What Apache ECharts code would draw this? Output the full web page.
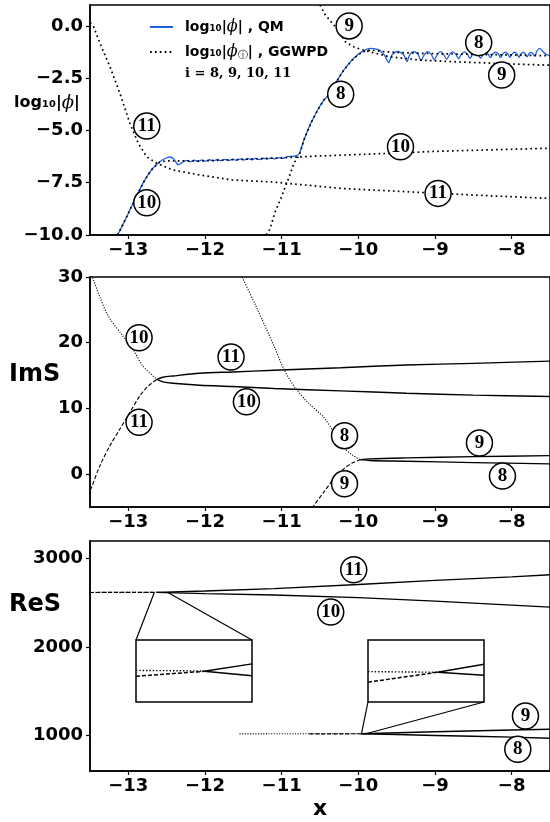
<!DOCTYPE html>
<html><head><meta charset="utf-8">
<script src="https://cdn.jsdelivr.net/npm/echarts@6/dist/echarts.min.js"></script>
<style>html,body{margin:0;padding:0;background:#fff}#c{width:550px;height:822px}</style>
</head><body><div id="c"></div><script>
// ---------- tick labels ----------
const xTicks = [-13, -12, -11, -10, -9, -8];
const phiTicks = [-10, -7.5, -5, -2.5, 0];
const imTicks = [0, 10, 20, 30];
const reTicks = [1000, 2000, 3000];

// ---------- panel 1 : log10|phi| ----------
const qm = [
  [-13.14,-10.0],[-13.05,-9.35],[-12.96,-8.65],[-12.88,-8.05],[-12.81,-7.53],[-12.74,-7.1],[-12.68,-6.81],
  [-12.59,-6.5],[-12.52,-6.34],[-12.46,-6.27],[-12.41,-6.35],[-12.35,-6.64],[-12.29,-6.52],[-12.24,-6.43],
  [-12.19,-6.5],[-12.14,-6.42],[-12.09,-6.49],[-12.04,-6.41],[-11.99,-6.47],[-11.94,-6.4],[-11.89,-6.46],
  [-11.84,-6.39],[-11.79,-6.45],[-11.74,-6.38],[-11.69,-6.44],[-11.64,-6.37],[-11.59,-6.43],[-11.54,-6.36],
  [-11.49,-6.41],[-11.44,-6.35],[-11.39,-6.4],[-11.34,-6.34],[-11.29,-6.39],[-11.24,-6.33],[-11.19,-6.37],
  [-11.14,-6.31],[-11.09,-6.36],[-11.04,-6.3],[-10.99,-6.34],[-10.94,-6.27],[-10.88,-6.24],[-10.82,-6.22],
  [-10.77,-6.1],[-10.71,-5.46],[-10.62,-4.66],[-10.53,-4.02],[-10.45,-3.55],[-10.38,-3.27],[-10.3,-2.75],
  [-10.19,-2.11],[-10.06,-1.55],[-9.95,-1.23],[-9.84,-1.07],[-9.73,-1.15],[-9.66,-1.4],[-9.604,-1.75],
  [-9.56,-1.38],[-9.485,-1.22],[-9.41,-1.38],[-9.366,-1.71],
  [-9.33,-1.38],[-9.275,-1.23],[-9.22,-1.37],[-9.184,-1.66],
  [-9.14,-1.37],[-9.097,-1.23],[-9.05,-1.36],[-9.01,-1.62],
  [-8.97,-1.36],[-8.928,-1.23],[-8.89,-1.35],[-8.847,-1.6],
  [-8.81,-1.36],[-8.769,-1.24],[-8.73,-1.35],[-8.691,-1.57],
  [-8.655,-1.35],[-8.617,-1.24],[-8.58,-1.34],[-8.543,-1.55],
  [-8.51,-1.35],[-8.474,-1.25],[-8.44,-1.34],[-8.405,-1.55],
  [-8.37,-1.35],[-8.34,-1.25],[-8.31,-1.34],[-8.275,-1.52],
  [-8.245,-1.34],[-8.21,-1.25],[-8.175,-1.33],[-8.145,-1.52],
  [-8.115,-1.34],[-8.084,-1.26],[-8.053,-1.33],[-8.023,-1.5],
  [-7.993,-1.34],[-7.963,-1.26],[-7.933,-1.33],[-7.903,-1.5],
  [-7.877,-1.33],[-7.851,-1.26],[-7.825,-1.33],[-7.799,-1.48],
  [-7.774,-1.33],[-7.749,-1.27],[-7.724,-1.32],[-7.699,-1.45],
  [-7.67,-1.2],[-7.634,-1.07],[-7.6,-1.2],[-7.55,-1.36],[-7.5,-1.42]
];
const g8 = [
  [-11.2,-10.0],[-11.15,-9.69],[-11.09,-8.94],[-11.01,-8.25],[-10.96,-7.77],[-10.9,-7.2],[-10.84,-6.57],
  [-10.77,-6.18],[-10.71,-5.46],[-10.62,-4.66],[-10.53,-4.02],[-10.45,-3.55],[-10.38,-3.27],[-10.3,-2.75],
  [-10.19,-2.11],[-10.06,-1.55],[-9.95,-1.25],[-9.84,-1.15],[-9.7,-1.22],[-9.5,-1.27],[-9.0,-1.33],
  [-8.5,-1.36],[-8.0,-1.39],[-7.5,-1.43]
];
const g9 = [
  [-10.5,1.0],[-10.43,0.52],[-10.3,-0.04],[-10.17,-0.76],[-10.06,-1.0],[-9.97,-1.12],[-9.86,-1.23],
  [-9.72,-1.36],[-9.6,-1.47],[-9.21,-1.63],[-8.9,-1.69],[-8.5,-1.75],[-8.0,-1.82],[-7.5,-1.88]
];
const g10 = [
  [-13.14,-10.0],[-13.05,-9.35],[-12.96,-8.65],[-12.88,-8.05],[-12.81,-7.53],[-12.74,-7.1],[-12.68,-6.81],
  [-12.59,-6.52],[-12.5,-6.45],[-12.4,-6.46],[-12.0,-6.45],[-11.5,-6.38],[-11.0,-6.31],[-10.5,-6.22],
  [-10.0,-6.15],[-9.5,-6.08],[-9.0,-6.0],[-8.5,-5.95],[-8.0,-5.9],[-7.5,-5.85]
];
const g11 = [
  [-13.5,0.15],[-13.457,0.0],[-13.37,-0.83],[-13.24,-1.95],[-13.11,-3.22],[-12.98,-4.66],[-12.87,-5.62],
  [-12.76,-6.26],[-12.63,-6.57],[-12.42,-6.89],[-12.07,-7.13],[-11.64,-7.37],[-11.1,-7.47],[-10.23,-7.77],
  [-9.37,-7.93],[-8.5,-8.09],[-7.5,-8.25]
];
const tags1 = [
  [-10.12,0.0,'9'],[-8.43,-0.8,'8'],[-8.13,-2.35,'9'],[-10.23,-3.27,'8'],
  [-9.45,-5.78,'10'],[-8.96,-8.01,'11'],[-12.76,-4.79,'11'],[-12.76,-8.46,'10']
];

// ---------- panel 2 : ImS ----------
const im10Dot = [[-13.5,30.6],[-13.465,29.85],[-13.37,26.9],[-13.26,24.03],[-13.07,21.0],[-12.94,18.98],[-12.81,16.45],[-12.63,14.44]];
const im11Dash = [[-13.5,-2.4],[-13.48,-2.0],[-13.37,1.3],[-13.24,4.33],[-13.11,6.86],[-12.98,9.39],[-12.85,11.9],[-12.74,13.42],[-12.63,14.4]];
const im11 = [[-12.63,14.42],[-12.55,14.75],[-12.42,14.94],[-12.07,15.35],[-11.64,15.55],[-11.1,15.8],[-10.23,16.2],[-9.37,16.6],[-8.5,16.86],[-7.5,17.2]];
const im10 = [[-12.63,14.42],[-12.55,14.05],[-12.42,13.83],[-12.07,13.53],[-11.64,13.33],[-11.1,13.03],[-10.23,12.67],[-9.37,12.32],[-8.5,12.02],[-7.5,11.82]];
const im8Dot = [[-11.53,30.3],[-11.51,29.85],[-11.335,25.55],[-11.1,19.5],[-10.97,15.95],[-10.84,13.42],[-10.66,10.9],[-10.45,8.64],[-10.32,6.36],[-10.19,4.09],[-10.08,2.92],[-9.97,2.21]];
const im9Dash = [[-10.6,-5.2],[-10.58,-4.76],[-10.45,-2.73],[-10.32,-0.71],[-10.19,0.8],[-10.08,1.71],[-9.97,2.21]];
const im9 = [[-9.97,2.21],[-9.85,2.33],[-9.37,2.47],[-8.5,2.66],[-7.5,2.82]];
const im8 = [[-9.97,2.21],[-9.85,2.08],[-9.37,1.97],[-8.5,1.76],[-7.5,1.56]];
const tags2 = [
  [-12.86,20.76,'10'],[-12.86,7.88,'11'],[-11.66,17.82,'11'],[-11.46,11.0,'10'],
  [-10.18,5.85,'8'],[-10.18,-1.47,'9'],[-8.42,4.74,'9'],[-8.12,-0.3,'8']
];

// ---------- panel 3 : ReS ----------
const re10Dot = [[-13.5,2620],[-12.63,2620]];
const re11Dash = [[-13.5,2618],[-12.63,2619]];
const re11 = [[-12.63,2619],[-12.0,2635],[-11.1,2662],[-10.0,2708],[-9.0,2755],[-8.0,2795],[-7.5,2818]];
const re10 = [[-12.63,2619],[-12.0,2605],[-11.1,2590],[-10.0,2560],[-9.0,2520],[-8.0,2475],[-7.5,2452]];
const re8Dot = [[-11.55,1020],[-9.97,1021]];
const re9Dash = [[-10.64,1020],[-9.97,1021]];
const re9 = [[-9.97,1021],[-9.0,1043],[-8.0,1064],[-7.5,1072]];
const re8 = [[-9.97,1021],[-9.5,1012],[-9.0,1002],[-8.5,992],[-8.0,983],[-7.5,970]];
const tags3 = [[-10.06,2875,'11'],[-10.36,2396,'10'],[-7.82,1222,'9'],[-7.92,845,'8']];

// insets (zoomed regions around the branch points)
const inA_x = [-12.66, -12.49], inA_y = [2610, 2630];
const inA_dot = [[-12.66,2620.2],[-12.56,2620.0]];
const inA_dash = [[-12.66,2618.3],[-12.56,2619.9]];
const inA_up = [[-12.56,2619.9],[-12.49,2622.3]];
const inA_lo = [[-12.56,2619.9],[-12.49,2618.5]];
const inB_x = [-9.96, -9.90], inB_y = [1017, 1027];
const inB_dot = [[-9.96,1021.9],[-9.924,1021.8]];
const inB_dash = [[-9.96,1020.2],[-9.924,1021.8]];
const inB_up = [[-9.924,1021.8],[-9.90,1023.1]];
const inB_lo = [[-9.924,1021.8],[-9.90,1021.3]];

// ---------- chart ----------
const MINUS = '\u2212';
const fmtInt = v => (v < 0 ? MINUS : '') + Math.abs(v);
const fmt1 = v => (v < 0 ? MINUS : '') + Math.abs(v).toFixed(1);
const tickFont = {color:'#000', fontSize:18, fontWeight:'bold', fontFamily:'DejaVu Sans'};
const L = 90, W = 462, H = 230;
const grids = [
  {left:L, top:5, width:W, height:H},
  {left:L, top:277, width:W, height:H},
  {left:L, top:541, width:W, height:H},
  {left:136, top:640, width:116, height:62},
  {left:368, top:640, width:116, height:62}
].map(g => Object.assign({show:true, borderColor:'#000', borderWidth:1.5, backgroundColor:'transparent'}, g));
grids[3].backgroundColor = '#fff'; grids[4].backgroundColor = '#fff';

function xAx(gi){
  return {type:'value', gridIndex:gi, min:-13.5, max:-7.5,
    axisLine:{show:true, onZero:false, lineStyle:{color:'#000', width:1.5}},
    axisTick:{show:true, customValues:xTicks, length:4, lineStyle:{color:'#000', width:1.2}},
    axisLabel:Object.assign({customValues:xTicks, formatter:fmtInt, margin:6}, tickFont),
    splitLine:{show:false}};
}
function yAx(gi, min, max, ticks, f){
  return {type:'value', gridIndex:gi, min:min, max:max,
    axisLine:{show:true, onZero:false, lineStyle:{color:'#000', width:1.5}},
    axisTick:{show:true, customValues:ticks, length:4, lineStyle:{color:'#000', width:1.2}},
    axisLabel:Object.assign({customValues:ticks, formatter:f, margin:7}, tickFont),
    splitLine:{show:false}};
}
function hid(gi, r){ return {type:'value', gridIndex:gi, min:r[0], max:r[1], show:false, splitLine:{show:false}}; }

function ln(name, data, xi, style, width, color, z, gap){
  let type = 'solid';
  if (style === 'dot') type = [width, gap || width * 1.4];
  if (style === 'dash') type = [4, 2];
  const c = color || '#000';
  return {type:'line', name:name, data:data, xAxisIndex:xi, yAxisIndex:xi, symbol:'none', smooth:false,
    itemStyle:{color:c},
    lineStyle:{color:c, width:width, type:type}, z:z||2, silent:true, animation:false, clip:true};
}
function tags(data, xi){
  return {type:'scatter', data:data, xAxisIndex:xi, yAxisIndex:xi, symbol:'circle', symbolSize:26, z:10,
    itemStyle:{color:'#fff', borderColor:'#000', borderWidth:1.5, opacity:1},
    label:{show:true, position:'inside', formatter:p => p.value[2], color:'#000', fontSize:19,
      fontWeight:'bold', fontFamily:'Liberation Serif'}, silent:true, animation:false};
}

const series = [
  Object.assign(ln('QM', qm, 0, 'solid', 1.3, '#1f5fe0', 3), {smooth:0.25}),
  ln('GGWPD', g8, 0, 'dot', 1.7, '#000', 4, 3.2),
  ln('GGWPD', g9, 0, 'dot', 1.7, '#000', 4, 3.2),
  ln('GGWPD', g10, 0, 'dot', 1.7, '#000', 4, 3.2),
  ln('GGWPD', g11, 0, 'dot', 1.7, '#000', 4, 3.2),
  tags(tags1, 0),
  Object.assign(ln('im10d', im10Dot, 1, 'dot', 1.1), {smooth:0.3}),
  Object.assign(ln('im11d', im11Dash, 1, 'dash', 1.1), {smooth:0.3}),
  Object.assign(ln('im11', im11, 1, 'solid', 1.4), {smooth:0.3}),
  Object.assign(ln('im10', im10, 1, 'solid', 1.4), {smooth:0.3}),
  Object.assign(ln('im8d', im8Dot, 1, 'dot', 1.1), {smooth:0.3}),
  Object.assign(ln('im9d', im9Dash, 1, 'dash', 1.1), {smooth:0.3}),
  Object.assign(ln('im9', im9, 1, 'solid', 1.4), {smooth:0.3}),
  Object.assign(ln('im8', im8, 1, 'solid', 1.4), {smooth:0.3}),
  tags(tags2, 1),
  ln('re10d', re10Dot, 2, 'dot', 1.1),
  ln('re11d', re11Dash, 2, 'dash', 1.2, '#000', 3),
  ln('re11', re11, 2, 'solid', 1.4),
  ln('re10', re10, 2, 'solid', 1.4),
  ln('re8d', re8Dot, 2, 'dot', 1.1),
  ln('re9d', re9Dash, 2, 'dash', 1.2, '#000', 3),
  ln('re9', re9, 2, 'solid', 1.4),
  ln('re8', re8, 2, 'solid', 1.4),
  tags(tags3, 2),
  ln('a1', inA_dot, 3, 'dot', 1.4),
  ln('a2', inA_dash, 3, 'dash', 1.5),
  ln('a3', inA_up, 3, 'solid', 1.5),
  ln('a4', inA_lo, 3, 'solid', 1.5),
  ln('b1', inB_dot, 4, 'dot', 1.4),
  ln('b2', inB_dash, 4, 'dash', 1.5),
  ln('b3', inB_up, 4, 'solid', 1.5),
  ln('b4', inB_lo, 4, 'solid', 1.5)
];

const rich = {
  g:{width:7},
  a:{fontSize:14, fontWeight:'bold', fontFamily:'DejaVu Sans', color:'#000'},
  p:{fontSize:16, fontStyle:'italic', fontFamily:'DejaVu Serif', color:'#000'},
  s:{fontSize:10, fontFamily:'DejaVu Sans', color:'#000', verticalAlign:'bottom', padding:[6,0,0,0]}
};

const option = {
  animation:false,
  backgroundColor:'#fff',
  grid:grids,
  xAxis:[xAx(0), xAx(1), xAx(2), hid(3, inA_x), hid(4, inB_x)],
  yAxis:[yAx(0,-10,1,phiTicks,fmt1), yAx(1,-5,30,imTicks,fmtInt), yAx(2,600,3200,reTicks,fmtInt), hid(3, inA_y), hid(4, inB_y)],
  legend:{show:true, orient:'vertical', left:144, top:14, itemWidth:23, itemHeight:12, itemGap:9,
    selectedMode:false, data:['QM','GGWPD'], itemStyle:{opacity:0},
    formatter:n => n === 'QM' ? '{g|}{a|log₁₀|}{p|ϕ}{a|| , QM}' : '{g|}{a|log₁₀|}{p|ϕ}{s|ⓘ}{a|| , GGWPD}',
    textStyle:{rich:rich}},
  series:series,
  graphic:[
    {type:'text', left:185, top:67, style:{text:'i = 8, 9, 10, 11', font:'bold 13px "DejaVu Serif"', fill:'#000'}},
    {type:'text', left:14, top:94, style:{text:'{a|log₁₀|}{p|ϕ}{a||}', rich:{a:{fontSize:16,fontWeight:'bold',fontFamily:'DejaVu Sans',fill:'#000'}, p:{fontSize:18,fontStyle:'italic',fontFamily:'DejaVu Serif',fill:'#000'}}}},
    {type:'text', left:9, top:363, style:{text:'ImS', font:'bold 24px "DejaVu Sans"', fill:'#000'}},
    {type:'text', left:9, top:593, style:{text:'ReS', font:'bold 24px "DejaVu Sans"', fill:'#000'}},
    {type:'text', left:313, top:798, style:{text:'x', font:'bold 22px "DejaVu Sans"', fill:'#000'}}
  ]
};

const chart = echarts.init(document.getElementById('c'), null, {renderer:'canvas'});
chart.setOption(option);

// connector lines from the zoomed regions to the inset boxes
const pA0 = chart.convertToPixel({xAxisIndex:2, yAxisIndex:2}, [inA_x[0], 2620]);
const pA1 = chart.convertToPixel({xAxisIndex:2, yAxisIndex:2}, [inA_x[1], 2620]);
const pB0 = chart.convertToPixel({xAxisIndex:2, yAxisIndex:2}, [inB_x[0], 1021]);
const pB1 = chart.convertToPixel({xAxisIndex:2, yAxisIndex:2}, [inB_x[1], 1021]);
const gA = grids[3], gB = grids[4];
const conn = [
  [pA0, [gA.left, gA.top]], [pA1, [gA.left + gA.width, gA.top]],
  [pB0, [gB.left, gB.top + gB.height]], [pB1, [gB.left + gB.width, gB.top + gB.height]]
].map(c => ({type:'line', z:1, shape:{x1:c[0][0], y1:c[0][1], x2:c[1][0], y2:c[1][1]}, style:{stroke:'#000', lineWidth:1.2}}));
chart.setOption({graphic: option.graphic.concat(conn)});
</script></body></html>
